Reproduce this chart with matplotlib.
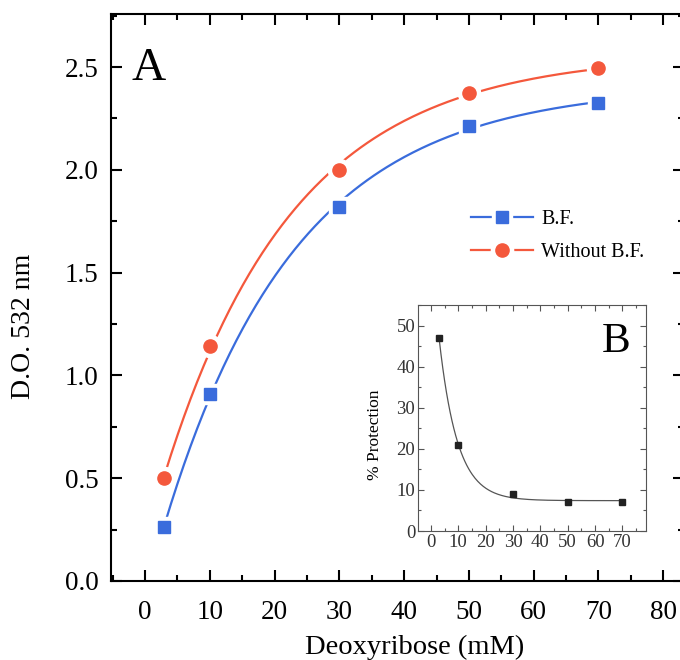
import numpy as np
import matplotlib.pyplot as plt
from matplotlib.ticker import MultipleLocator

plt.rcParams['font.family'] = ['Liberation Serif', 'DejaVu Serif']

# data
conc = [3, 10, 30, 50, 70]
od_bf = [0.265, 0.91, 1.82, 2.215, 2.325]
od_without = [0.50, 1.145, 2.00, 2.375, 2.495]
protection = [47, 21, 9, 7, 7]

blue = '#3a6cdc'
red = '#f4583c'


def fit_exp(x, y):
    # y = a + b*exp(-x/t), least squares over a grid of t
    x = np.asarray(x, float)
    y = np.asarray(y, float)
    best = None
    for t in np.linspace(1, 120, 3000):
        A = np.column_stack([np.ones_like(x), np.exp(-x / t)])
        coef, res, _, _ = np.linalg.lstsq(A, y, rcond=None)
        r = np.sum((A @ coef - y) ** 2)
        if best is None or r < best[0]:
            best = (r, coef, t)
    _, (a, b), t = best
    return lambda xx: a + b * np.exp(-xx / t)


def style_axes(ax, width, major, minor):
    for s in ax.spines.values():
        s.set_linewidth(width)
    ax.tick_params(which='both', direction='in', top=True, right=True, width=width)
    ax.tick_params(which='major', length=major)
    ax.tick_params(which='minor', length=minor)


fig = plt.figure(figsize=(6.8, 6.6), dpi=100)
ax = fig.add_axes([111 / 680, 1 - 581 / 660, 573 / 680, 567 / 660])

xs = np.linspace(3, 70, 200)
f_bf = fit_exp(conc, od_bf)
f_wo = fit_exp(conc, od_without)

l1, = ax.plot(xs, f_bf(xs), color=blue, lw=1.6)
h1, = ax.plot(conc, od_bf, 's', color='white', ms=15, ls='none')
m1, = ax.plot(conc, od_bf, 's', color=blue, ms=8.5, ls='none')
l2, = ax.plot(xs, f_wo(xs), color=red, lw=1.6)
h2, = ax.plot(conc, od_without, 'o', color='white', ms=16, ls='none')
m2, = ax.plot(conc, od_without, 'o', color=red, ms=9.5, ls='none')

ax.set_xlim(-5.25, 83.2)
ax.set_ylim(0, 2.758)
ax.xaxis.set_major_locator(MultipleLocator(10))
ax.xaxis.set_minor_locator(MultipleLocator(5))
ax.yaxis.set_major_locator(MultipleLocator(0.5))
ax.yaxis.set_minor_locator(MultipleLocator(0.25))
ax.yaxis.set_major_formatter(plt.FormatStrFormatter('%.1f'))
style_axes(ax, 1.5, 8, 4.5)
ax.tick_params(labelsize=19.5)
ax.tick_params(axis='x', pad=14)
ax.tick_params(axis='y', pad=9)
ax.set_xlabel('Deoxyribose (mM)', fontsize=20.5)
ax.set_ylabel('D.O. 532 nm', fontsize=20)
ax.xaxis.set_label_coords((415 - 111) / 573, -(647 - 581) / 567)
ax.yaxis.set_label_coords((24 - 111) / 573, (581 - 326) / 567)
ax.xaxis.label.set_va('center')
ax.yaxis.label.set_va('center')
ax.text(131 / 680, 1 - 80 / 660, 'A', transform=fig.transFigure, fontsize=34,
        va='baseline', ha='left')

fig.legend([(l1, h1, m1), (l2, h2, m2)], ['B.F.', 'Without B.F.'],
           loc='upper left', bbox_to_anchor=(471 / 680, 1 - 210 / 660),
           frameon=False, fontsize=14.5, handlelength=3.1, handletextpad=0.4,
           numpoints=1, borderpad=0, borderaxespad=0, labelspacing=0.7)

# inset B
axi = fig.add_axes([418 / 680, 1 - 531 / 660, 228 / 680, 226 / 660])
xi = np.linspace(3, 70, 200)
f_p = fit_exp(conc, protection)
axi.plot(xi, f_p(xi), color='#555555', lw=0.9)
axi.plot(conc, protection, 's', color='#222222', ms=4.5, ls='none')
axi.set_xlim(-4.7, 78.6)
axi.set_ylim(0, 55)
axi.xaxis.set_major_locator(MultipleLocator(10))
axi.xaxis.set_minor_locator(MultipleLocator(5))
axi.yaxis.set_major_locator(MultipleLocator(10))
axi.yaxis.set_minor_locator(MultipleLocator(5))
style_axes(axi, 0.8, 4, 2)
for s in axi.spines.values():
    s.set_color('#555555')
axi.tick_params(which='both', color='#555555', labelsize=13.5, labelcolor='#333333', pad=2)
axi.set_ylabel('% Protection', fontsize=12.5)
axi.yaxis.set_label_coords((375 - 418) / 228, (531 - 435) / 226)
axi.yaxis.label.set_va('center')
axi.text(0.93, 0.79, 'B', transform=axi.transAxes, fontsize=31, ha='right', va='baseline')

fig.savefig('out.png', dpi=100)
